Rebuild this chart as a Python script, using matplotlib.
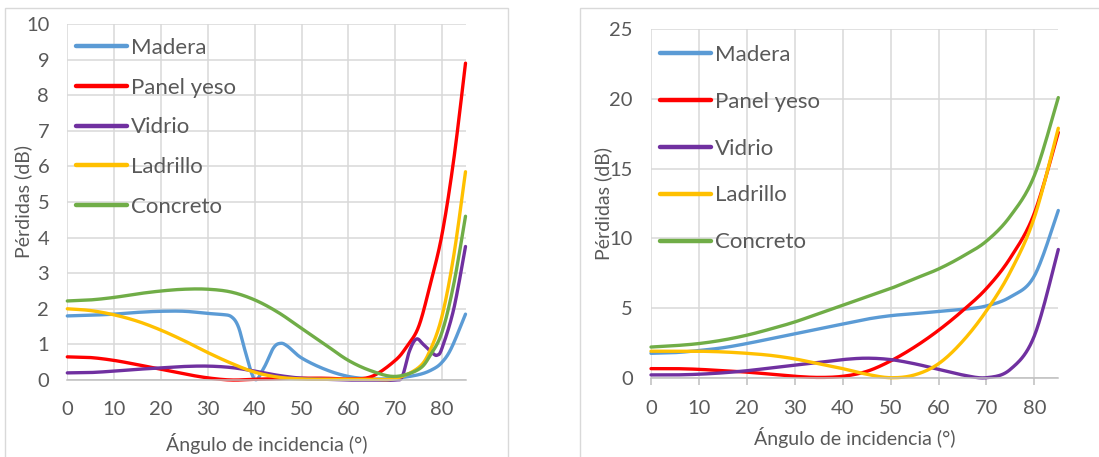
import numpy as np
import matplotlib
matplotlib.use("Agg")
import matplotlib.pyplot as plt
from matplotlib.patches import Rectangle

plt.rcParams['font.family'] = ['Lato', 'DejaVu Sans']

names = ["Madera", "Panel yeso", "Vidrio", "Ladrillo", "Concreto"]
colors = ["#5b9bd5", "#ff0000", "#7030a0", "#ffc000", "#70ad47"]

# --- left chart (each series has its own angles) ---
madera_l_x = [0, 5, 10, 15, 20, 25, 30, 33, 35, 36.5, 38, 40, 42, 44, 45.5, 47, 50, 55, 60, 65, 70, 75, 78, 80, 82, 85]
madera_l_y = [1.8, 1.82, 1.85, 1.9, 1.93, 1.93, 1.87, 1.84, 1.78, 1.5, 0.8, 0.02, 0.35, 0.9, 1.03, 0.95, 0.62, 0.3, 0.1, 0.03, 0.05, 0.15, 0.3, 0.5, 0.9, 1.85]
panel_l_x = [0, 5, 10, 15, 20, 25, 30, 35, 40, 45, 50, 55, 60, 65, 70, 72.5, 75, 77.5, 80, 82.5, 85]
panel_l_y = [0.65, 0.63, 0.55, 0.43, 0.3, 0.17, 0.06, 0.0, 0.02, 0.04, 0.05, 0.05, 0.03, 0.1, 0.55, 0.95, 1.5, 2.7, 4.1, 6.2, 8.9]
vidrio_l_x = [0, 5, 10, 15, 20, 25, 30, 35, 40, 45, 50, 55, 60, 65, 70, 71.5, 73, 74.5, 76, 78, 79, 80, 82.5, 85]
vidrio_l_y = [0.2, 0.21, 0.25, 0.3, 0.34, 0.38, 0.39, 0.35, 0.25, 0.13, 0.05, 0.02, 0.0, 0.0, 0.0, 0.1, 0.8, 1.15, 1.0, 0.75, 0.7, 0.9, 2.0, 3.75]
ladrillo_l_x = [0, 5, 10, 15, 20, 25, 30, 35, 40, 45, 50, 55, 60, 65, 70, 75, 77.5, 80, 82.5, 85]
ladrillo_l_y = [2.0, 1.95, 1.83, 1.65, 1.4, 1.1, 0.77, 0.47, 0.22, 0.08, 0.03, 0.02, 0.02, 0.02, 0.04, 0.35, 0.85, 1.8, 3.5, 5.85]
concreto_l_x = [0, 5, 10, 15, 20, 25, 30, 35, 40, 45, 50, 55, 60, 65, 70, 75, 77.5, 80, 82.5, 85]
concreto_l_y = [2.22, 2.25, 2.32, 2.42, 2.5, 2.55, 2.55, 2.47, 2.25, 1.9, 1.45, 1.0, 0.55, 0.25, 0.1, 0.3, 0.7, 1.35, 2.7, 4.6]

# --- right chart (shared angles) ---
angles_r = [0, 5, 10, 15, 20, 25, 30, 35, 40, 45, 50, 55, 60, 65, 70, 75, 80, 85]
madera_r = [1.75, 1.8, 1.95, 2.15, 2.45, 2.8, 3.15, 3.5, 3.85, 4.2, 4.45, 4.6, 4.75, 4.9, 5.15, 5.8, 7.3, 12.0]
panel_r = [0.65, 0.65, 0.6, 0.5, 0.4, 0.25, 0.1, 0.02, 0.1, 0.45, 1.2, 2.2, 3.4, 4.8, 6.4, 8.6, 11.8, 17.6]
vidrio_r = [0.2, 0.2, 0.25, 0.35, 0.5, 0.7, 0.9, 1.1, 1.3, 1.4, 1.3, 1.0, 0.6, 0.2, 0.0, 0.6, 3.0, 9.2]
ladrillo_r = [1.9, 1.9, 1.9, 1.85, 1.75, 1.6, 1.35, 1.0, 0.65, 0.25, 0.0, 0.2, 1.0, 2.6, 4.8, 7.6, 11.5, 17.9]
concreto_r = [2.2, 2.3, 2.45, 2.7, 3.05, 3.5, 4.0, 4.6, 5.2, 5.8, 6.4, 7.1, 7.8, 8.7, 9.8, 11.6, 14.5, 20.1]

TXT = "#595959"
GRID = "#d9d9d9"


def smooth(x, y, n=24):
    # Excel-like smoothed line: cubic bezier through the points
    P = np.column_stack([x, y]).astype(float)
    out = [P[:1]]
    t = np.linspace(0, 1, n)[1:, None]
    for i in range(len(P) - 1):
        p0 = P[i - 1] if i > 0 else P[i]
        p3 = P[i + 2] if i + 2 < len(P) else P[i + 1]
        c1 = P[i] + (P[i + 1] - p0) / 6
        c2 = P[i + 1] - (p3 - P[i]) / 6
        seg = ((1 - t) ** 3) * P[i] + 3 * ((1 - t) ** 2) * t * c1 + 3 * (1 - t) * t ** 2 * c2 + t ** 3 * P[i + 1]
        out.append(seg)
    pts = np.vstack(out)
    return pts[:, 0], pts[:, 1]


def style_axes(ax, ymax, ystep, ticks_out):
    ax.set_xlim(0, 85)
    ax.set_ylim(0, ymax)
    ax.set_xticks(np.arange(0, 81, 10))
    ax.set_yticks(np.arange(0, ymax + 0.1, ystep))
    ax.grid(True, color=GRID, linewidth=1.1)
    ax.set_axisbelow(True)
    for s in ["top", "right", "left"]:
        ax.spines[s].set_visible(False)
    ax.spines["bottom"].set_color("#bfbfbf")
    ax.spines["bottom"].set_linewidth(1.1)
    ax.tick_params(axis="y", length=0, pad=13, labelsize=14.5, labelcolor=TXT)
    if ticks_out:
        ax.tick_params(axis="x", length=5, color="#bfbfbf", width=1.1, pad=11, labelsize=14.5, labelcolor=TXT)
    else:
        ax.tick_params(axis="x", length=0, pad=15, labelsize=14.5, labelcolor=TXT)
    ax.set_xlabel("Ángulo de incidencia (°)", fontsize=14, color=TXT)
    ax.set_ylabel("Pérdidas (dB)", fontsize=14, color=TXT)


fig = plt.figure(figsize=(10.99, 4.57), dpi=100)

# chart borders
fig.patches.append(Rectangle((5 / 1099, -0.01), 503 / 1099, 1 - 8 / 457 + 0.01,
                             transform=fig.transFigure, fill=False, edgecolor=GRID, linewidth=1))
fig.patches.append(Rectangle((580 / 1099, -0.01), 530 / 1099, 1 - 8 / 457 + 0.01,
                             transform=fig.transFigure, fill=False, edgecolor=GRID, linewidth=1))

ax1 = fig.add_axes([67.3 / 1099, 77 / 457, 398.2 / 1099, 356 / 457])
ax2 = fig.add_axes([651 / 1099, 79.3 / 457, 407.3 / 1099, 348.4 / 457])

left = [(madera_l_x, madera_l_y), (panel_l_x, panel_l_y), (vidrio_l_x, vidrio_l_y),
        (ladrillo_l_x, ladrillo_l_y), (concreto_l_x, concreto_l_y)]
for (x, y), name, c in zip(left, names, colors):
    sx, sy = smooth(x, y)
    ax1.plot(sx, sy, color=c, linewidth=2.4, label=name, clip_on=False, solid_capstyle="round")

right = [madera_r, panel_r, vidrio_r, ladrillo_r, concreto_r]
for y, name, c in zip(right, names, colors):
    sx, sy = smooth(angles_r, y)
    ax2.plot(sx, sy, color=c, linewidth=2.4, label=name, clip_on=False, solid_capstyle="round")

style_axes(ax1, 10, 1, False)
style_axes(ax2, 25, 5, True)
ax1.yaxis.set_label_coords(-0.111, 0.5)
ax2.yaxis.set_label_coords(-0.118, 0.5)
ax1.xaxis.set_label_coords(0.5, -0.177)
ax2.xaxis.set_label_coords(0.5, -0.173)
ax1.xaxis.label.set_va("center")
ax2.xaxis.label.set_va("center")
ax1.yaxis.label.set_va("center")
ax2.yaxis.label.set_va("center")

for ax, spacing, anchor in [(ax1, 0.89, (0.0, 0.986)), (ax2, 1.21, (0.0, 0.981))]:
    leg = ax.legend(loc="upper left", bbox_to_anchor=anchor, frameon=False, fontsize=16,
                    handlelength=2.3, handletextpad=0.18, labelspacing=spacing, borderaxespad=0)
    for t in leg.get_texts():
        t.set_color(TXT)
    for h in leg.get_lines():
        h.set_linewidth(3.2)

fig.savefig("out.png", dpi=100)
